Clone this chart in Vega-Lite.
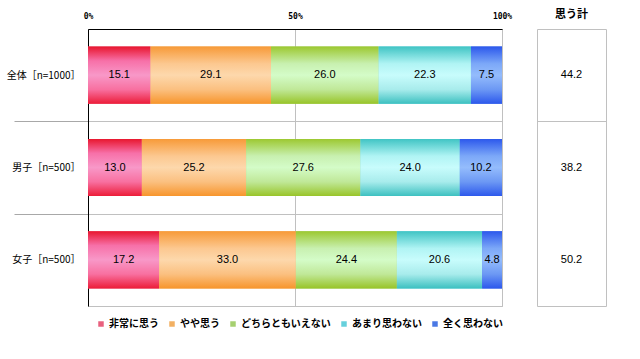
{
  "$schema": "https://vega.github.io/schema/vega-lite/v6.json",
  "background": "white",
  "padding": {"left": 5, "top": 8, "right": 5, "bottom": 5},
  "bounds": "flush",
  "spacing": 35,
  "config": {
    "view": {"stroke": "#c0c0c0"},
    "font": "Noto Sans CJK JP"
  },
  "hconcat": [
    {
      "width": 414,
      "height": 277,
      "data": {"values": [
        {"g": "全体［n=1000］", "k": "非常に思う", "o": 1, "v": 15.1},
        {"g": "全体［n=1000］", "k": "やや思う", "o": 2, "v": 29.1},
        {"g": "全体［n=1000］", "k": "どちらともいえない", "o": 3, "v": 26.0},
        {"g": "全体［n=1000］", "k": "あまり思わない", "o": 4, "v": 22.3},
        {"g": "全体［n=1000］", "k": "全く思わない", "o": 5, "v": 7.5},
        {"g": "男子［n=500］", "k": "非常に思う", "o": 1, "v": 13.0},
        {"g": "男子［n=500］", "k": "やや思う", "o": 2, "v": 25.2},
        {"g": "男子［n=500］", "k": "どちらともいえない", "o": 3, "v": 27.6},
        {"g": "男子［n=500］", "k": "あまり思わない", "o": 4, "v": 24.0},
        {"g": "男子［n=500］", "k": "全く思わない", "o": 5, "v": 10.2},
        {"g": "女子［n=500］", "k": "非常に思う", "o": 1, "v": 17.2},
        {"g": "女子［n=500］", "k": "やや思う", "o": 2, "v": 33.0},
        {"g": "女子［n=500］", "k": "どちらともいえない", "o": 3, "v": 24.4},
        {"g": "女子［n=500］", "k": "あまり思わない", "o": 4, "v": 20.6},
        {"g": "女子［n=500］", "k": "全く思わない", "o": 5, "v": 4.8}
      ]},
      "transform": [
        {"stack": "v", "groupby": ["g"], "sort": [{"field": "o", "order": "ascending"}], "as": ["x0", "x1"]},
        {"calculate": "(datum.x0 + datum.x1) / 2", "as": "mid"}
      ],
      "encoding": {
        "y": {
          "field": "g", "type": "nominal", "sort": null,
          "scale": {"paddingInner": 0, "paddingOuter": 0},
          "axis": {
            "title": null, "tickBand": "extent", "labelPadding": -66,
            "labelFontSize": 10, "labelColor": "#000", "labelFont": "Noto Sans CJK JP",
            "ticks": true, "tickSize": 74, "tickColor": "#a8a8a8",
            "tickOpacity": {"condition": {"test": "datum.value === '全体［n=1000］' || datum.value === '男子［n=500］'", "value": 1}, "value": 0},
            "domainColor": "#000", "grid": true, "gridColor": "#c0c0c0"
          }
        }
      },
      "layer": [
        {
          "mark": {"type": "bar", "height": {"band": 0.62}},
          "encoding": {
            "x": {"field": "x0", "type": "quantitative", "scale": {"domain": [0, 100], "nice": false},
              "axis": {"title": null, "orient": "top", "values": [0, 50, 100], "labelExpr": "datum.value + '%'", "labelFontSize": 8, "labelFont": "DejaVu Sans Mono", "labelFontWeight": "bold", "labelColor": "#000", "ticks": false, "tickSize": 0, "labelPadding": 9, "domainColor": "#000", "grid": true, "gridColor": "#c0c0c0", "labelFlush": false}},
            "x2": {"field": "x1"},
            "color": {
              "field": "k", "type": "nominal",
              "scale": {"domain": ["非常に思う", "やや思う", "どちらともいえない", "あまり思わない", "全く思わない"], "range": ["#e8607e", "#f2b062", "#a6d070", "#66d0dc", "#4a78e4"]},
              "legend": {"orient": "none", "legendX": 8, "legendY": 290, "direction": "horizontal", "columns": 5, "title": null, "symbolType": "square", "symbolSize": 30, "symbolStrokeWidth": 0, "labelFontSize": 10, "labelFontWeight": "bold", "labelColor": "#000", "columnPadding": 8, "labelOffset": 3}
            }
          }
        },
        {
          "transform": [{"filter": "datum.o == 1"}],
          "mark": {"type": "bar", "height": {"band": 0.62}, "color": {"gradient": "linear", "x1": 0, "y1": 0, "x2": 0, "y2": 1, "stops": [{"offset": 0, "color": "#e8162e"}, {"offset": 0.25, "color": "#f770a8"}, {"offset": 0.5, "color": "#f898c8"}, {"offset": 0.75, "color": "#f870a0"}, {"offset": 1, "color": "#ec1c38"}]}},
          "encoding": {"x": {"field": "x0", "type": "quantitative"}, "x2": {"field": "x1"}}
        },
        {
          "transform": [{"filter": "datum.o == 2"}],
          "mark": {"type": "bar", "height": {"band": 0.62}, "color": {"gradient": "linear", "x1": 0, "y1": 0, "x2": 0, "y2": 1, "stops": [{"offset": 0, "color": "#f79a38"}, {"offset": 0.3, "color": "#fcc890"}, {"offset": 0.5, "color": "#fdd8ac"}, {"offset": 0.75, "color": "#fbc080"}, {"offset": 1, "color": "#f7952c"}]}},
          "encoding": {"x": {"field": "x0", "type": "quantitative"}, "x2": {"field": "x1"}}
        },
        {
          "transform": [{"filter": "datum.o == 3"}],
          "mark": {"type": "bar", "height": {"band": 0.62}, "color": {"gradient": "linear", "x1": 0, "y1": 0, "x2": 0, "y2": 1, "stops": [{"offset": 0, "color": "#9cc830"}, {"offset": 0.3, "color": "#c8f0b0"}, {"offset": 0.5, "color": "#d4fcc8"}, {"offset": 0.75, "color": "#c0e898"}, {"offset": 1, "color": "#98c428"}]}},
          "encoding": {"x": {"field": "x0", "type": "quantitative"}, "x2": {"field": "x1"}}
        },
        {
          "transform": [{"filter": "datum.o == 4"}],
          "mark": {"type": "bar", "height": {"band": 0.62}, "color": {"gradient": "linear", "x1": 0, "y1": 0, "x2": 0, "y2": 1, "stops": [{"offset": 0, "color": "#40c4c4"}, {"offset": 0.3, "color": "#b0f4f4"}, {"offset": 0.5, "color": "#c8fcfc"}, {"offset": 0.75, "color": "#a8ecec"}, {"offset": 1, "color": "#3cc0c0"}]}},
          "encoding": {"x": {"field": "x0", "type": "quantitative"}, "x2": {"field": "x1"}}
        },
        {
          "transform": [{"filter": "datum.o == 5"}],
          "mark": {"type": "bar", "height": {"band": 0.62}, "color": {"gradient": "linear", "x1": 0, "y1": 0, "x2": 0, "y2": 1, "stops": [{"offset": 0, "color": "#2c58ec"}, {"offset": 0.3, "color": "#7ca8f8"}, {"offset": 0.5, "color": "#94bcfc"}, {"offset": 0.75, "color": "#6c98f4"}, {"offset": 1, "color": "#2c58ec"}]}},
          "encoding": {"x": {"field": "x0", "type": "quantitative"}, "x2": {"field": "x1"}}
        },
        {
          "mark": {"type": "text", "fontSize": 11, "font": "Liberation Sans", "color": "#000"},
          "encoding": {
            "x": {"field": "mid", "type": "quantitative"},
            "text": {"field": "v", "type": "quantitative", "format": ".1f"}
          }
        }
      ]
    },
    {
      "width": 69,
      "height": 277,
      "title": {"text": "思う計", "fontSize": 11, "fontWeight": "bold", "font": "Noto Sans CJK JP", "color": "#000", "offset": 9},
      "data": {"values": [
        {"g": "全体［n=1000］", "t": 44.2},
        {"g": "男子［n=500］", "t": 38.2},
        {"g": "女子［n=500］", "t": 50.2}
      ]},
      "mark": {"type": "text", "fontSize": 11, "font": "Liberation Sans", "color": "#000"},
      "encoding": {
        "y": {
          "field": "g", "type": "nominal", "sort": null,
          "scale": {"paddingInner": 0, "paddingOuter": 0},
          "axis": {"title": null, "labels": false, "ticks": false, "domain": false, "tickBand": "extent", "grid": true, "gridColor": "#c0c0c0",
            "gridOpacity": {"condition": {"test": "datum.value === '全体［n=1000］'", "value": 1}, "value": 0}}
        },
        "text": {"field": "t", "type": "quantitative", "format": ".1f"}
      }
    }
  ]
}
